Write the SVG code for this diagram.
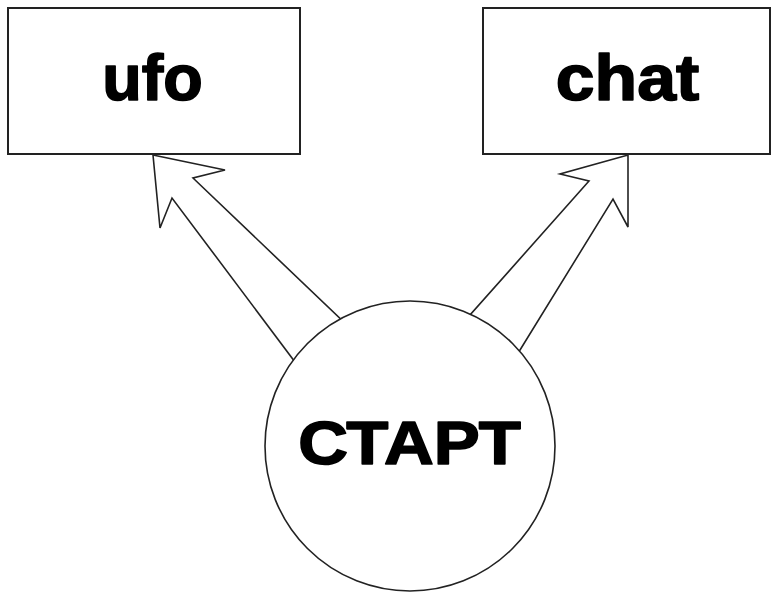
<svg xmlns="http://www.w3.org/2000/svg" width="772" height="592" viewBox="0 0 772 592">
  <style>
    .box { fill: #ffffff; stroke: #222222; stroke-width: 2; }
    .circle { fill: #ffffff; stroke: #222222; stroke-width: 1.6; }
    .arrow { fill: #ffffff; stroke: #222222; stroke-width: 1.6; stroke-linejoin: miter; }
    .label { font-family: "Liberation Sans", Arial, sans-serif; font-weight: bold; font-size: 64px; fill: #000000; stroke: #000000; stroke-width: 1.6; stroke-linejoin: round; text-anchor: middle; }
  </style>
  <rect width="772" height="592" fill="#ffffff"/>

  <!-- block arrows from the start circle to the two boxes -->
  <g id="connectors">
    <polygon class="arrow" points="153,155 225,170 193,178 349,327 301,370 172,198 160,228"/>
    <polygon class="arrow" points="628,155 628,227 613,199 512,363 462,324 589,181 560,174"/>
  </g>

  <g id="node-ufo">
    <rect class="box" x="8" y="8" width="292" height="146"/>
    <text class="label" transform="translate(152.5,100) scale(1.01,1)">ufo</text>
  </g>

  <g id="node-chat">
    <rect class="box" x="483" y="8" width="287" height="146"/>
    <text class="label" transform="translate(627.5,100) scale(1.09,1)">chat</text>
  </g>

  <g id="node-start">
    <circle class="circle" cx="410" cy="446" r="145"/>
    <text class="label" style="font-size:61px" transform="translate(409.5,464) scale(1.13,1)">СТАРТ</text>
  </g>
</svg>
